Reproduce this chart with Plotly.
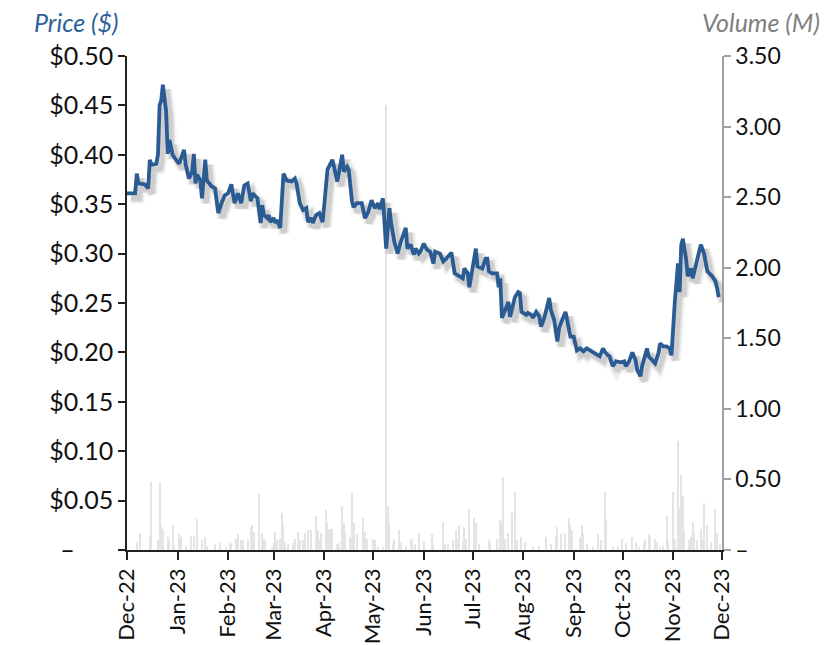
import plotly.graph_objects as go
import datetime as _dt

# ---------------- data ----------------
price_dates = ["2022-12-01","2022-12-02","2022-12-06","2022-12-07","2022-12-08","2022-12-12","2022-12-14","2022-12-15","2022-12-16","2022-12-19","2022-12-20","2022-12-21","2022-12-22","2022-12-23","2022-12-24","2022-12-25","2022-12-26","2022-12-27","2022-12-28","2022-12-29","2022-12-31",
"2023-01-02","2023-01-05","2023-01-06","2023-01-08","2023-01-10","2023-01-11","2023-01-12","2023-01-13","2023-01-15","2023-01-16","2023-01-18","2023-01-19","2023-01-22","2023-01-24","2023-01-26","2023-01-28","2023-01-30",
"2023-02-01","2023-02-03","2023-02-05","2023-02-07","2023-02-09","2023-02-11","2023-02-13","2023-02-15","2023-02-16","2023-02-19","2023-02-21","2023-02-22","2023-02-23","2023-02-25","2023-02-26","2023-02-27",
"2023-03-01","2023-03-02","2023-03-03","2023-03-05","2023-03-07","2023-03-09","2023-03-12","2023-03-14","2023-03-15","2023-03-17","2023-03-19","2023-03-21","2023-03-22","2023-03-24","2023-03-25","2023-03-27","2023-03-29","2023-03-31",
"2023-04-01","2023-04-03","2023-04-06","2023-04-07","2023-04-09","2023-04-12","2023-04-13","2023-04-15","2023-04-16","2023-04-18","2023-04-19","2023-04-21","2023-04-24","2023-04-26","2023-04-28","2023-04-30",
"2023-05-02","2023-05-04","2023-05-05","2023-05-07","2023-05-09","2023-05-11","2023-05-12","2023-05-14","2023-05-16","2023-05-18","2023-05-21","2023-05-22","2023-05-24","2023-05-26","2023-05-27","2023-05-29","2023-05-30",
"2023-06-01","2023-06-03","2023-06-05","2023-06-07","2023-06-08","2023-06-11","2023-06-13","2023-06-15","2023-06-18","2023-06-20","2023-06-22","2023-06-25","2023-06-26","2023-06-28","2023-06-29",
"2023-07-01","2023-07-03","2023-07-04","2023-07-07","2023-07-09","2023-07-10","2023-07-11","2023-07-13","2023-07-16","2023-07-17","2023-07-18","2023-07-19","2023-07-21","2023-07-23","2023-07-24","2023-07-27","2023-07-29","2023-07-30","2023-07-31",
"2023-08-03","2023-08-04","2023-08-06","2023-08-07","2023-08-09","2023-08-11","2023-08-12","2023-08-14","2023-08-17","2023-08-18","2023-08-20","2023-08-22","2023-08-23","2023-08-25","2023-08-27","2023-08-28","2023-08-30",
"2023-09-01","2023-09-03","2023-09-05","2023-09-07","2023-09-09","2023-09-12","2023-09-15","2023-09-17","2023-09-19","2023-09-20","2023-09-22","2023-09-23","2023-09-25","2023-09-27","2023-09-30",
"2023-10-02","2023-10-03","2023-10-05","2023-10-07","2023-10-09","2023-10-10","2023-10-12","2023-10-13","2023-10-16","2023-10-17","2023-10-19","2023-10-21","2023-10-23","2023-10-24","2023-10-26","2023-10-28","2023-10-30","2023-10-31",
"2023-11-02","2023-11-03","2023-11-04","2023-11-05","2023-11-06","2023-11-07","2023-11-09","2023-11-10","2023-11-12","2023-11-13","2023-11-15","2023-11-16","2023-11-18","2023-11-20","2023-11-22","2023-11-25","2023-11-27","2023-11-28","2023-11-29"]

price_vals = [0.361,0.361,0.361,0.381,0.371,0.370,0.366,0.395,0.390,0.391,0.400,0.450,0.455,0.471,0.460,0.444,0.401,0.415,0.408,0.400,0.395,
0.391,0.405,0.390,0.376,0.383,0.401,0.371,0.380,0.374,0.356,0.395,0.374,0.368,0.366,0.341,0.351,0.359,
0.361,0.370,0.351,0.361,0.351,0.369,0.371,0.353,0.361,0.356,0.331,0.349,0.339,0.336,0.339,0.332,
0.336,0.331,0.334,0.326,0.381,0.374,0.373,0.376,0.371,0.351,0.344,0.346,0.332,0.336,0.331,0.339,0.341,0.332,
0.349,0.385,0.395,0.386,0.373,0.400,0.383,0.388,0.385,0.353,0.347,0.351,0.351,0.336,0.342,0.354,
0.346,0.351,0.345,0.356,0.305,0.346,0.331,0.312,0.300,0.312,0.326,0.305,0.309,0.299,0.305,0.300,0.302,
0.310,0.304,0.302,0.290,0.302,0.300,0.292,0.295,0.301,0.280,0.278,0.275,0.285,0.280,0.266,
0.285,0.305,0.287,0.285,0.295,0.295,0.282,0.280,0.280,0.266,0.275,0.235,0.243,0.251,0.236,0.256,0.261,0.260,0.241,
0.238,0.240,0.238,0.235,0.241,0.236,0.226,0.235,0.255,0.243,0.233,0.211,0.224,0.233,0.241,0.233,0.216,
0.216,0.202,0.204,0.201,0.204,0.201,0.197,0.196,0.204,0.201,0.197,0.196,0.186,0.191,0.190,
0.191,0.186,0.191,0.200,0.192,0.182,0.176,0.186,0.204,0.196,0.192,0.189,0.199,0.209,0.206,0.206,0.204,0.197,
0.250,0.273,0.290,0.261,0.309,0.315,0.294,0.277,0.285,0.275,0.290,0.294,0.309,0.300,0.282,0.277,0.272,0.265,0.256]

vol_dates = ["2022-12-07","2022-12-09","2022-12-15","2022-12-16","2022-12-20","2022-12-21","2022-12-22","2022-12-23","2022-12-26","2022-12-27","2022-12-29","2022-12-30",
"2023-01-02","2023-01-03","2023-01-06","2023-01-09","2023-01-11","2023-01-13","2023-01-16","2023-01-18","2023-01-19","2023-01-24","2023-01-27","2023-01-31",
"2023-02-02","2023-02-03","2023-02-06","2023-02-07","2023-02-09","2023-02-10","2023-02-13","2023-02-15","2023-02-16","2023-02-17","2023-02-20","2023-02-22","2023-02-23","2023-02-24","2023-02-28",
"2023-03-01","2023-03-02","2023-03-03","2023-03-05","2023-03-06","2023-03-07","2023-03-08","2023-03-10","2023-03-13","2023-03-14","2023-03-16","2023-03-17","2023-03-19","2023-03-20","2023-03-22","2023-03-24","2023-03-27","2023-03-28","2023-03-29","2023-03-30",
"2023-04-02","2023-04-03","2023-04-04","2023-04-05","2023-04-06","2023-04-09","2023-04-10","2023-04-12","2023-04-13","2023-04-14","2023-04-17","2023-04-18","2023-04-19","2023-04-21","2023-04-25","2023-04-26","2023-04-27",
"2023-05-01","2023-05-02","2023-05-04","2023-05-07","2023-05-09","2023-05-10","2023-05-11","2023-05-13","2023-05-14","2023-05-17","2023-05-18","2023-05-21","2023-05-24","2023-05-25","2023-05-27","2023-05-29",
"2023-06-01","2023-06-06","2023-06-07","2023-06-13","2023-06-14","2023-06-16","2023-06-19","2023-06-21","2023-06-22","2023-06-23","2023-06-25","2023-06-26","2023-06-27","2023-06-29",
"2023-07-02","2023-07-03","2023-07-05","2023-07-11","2023-07-12","2023-07-16","2023-07-18","2023-07-19","2023-07-20","2023-07-21","2023-07-23","2023-07-25","2023-07-27","2023-07-28","2023-07-31",
"2023-08-02","2023-08-07","2023-08-11","2023-08-15","2023-08-18","2023-08-21","2023-08-22","2023-08-24","2023-08-27","2023-08-29","2023-08-30","2023-08-31",
"2023-09-05","2023-09-06","2023-09-07","2023-09-09","2023-09-13","2023-09-16","2023-09-18","2023-09-20","2023-09-21","2023-09-25","2023-09-28",
"2023-10-01","2023-10-03","2023-10-07","2023-10-09","2023-10-11","2023-10-14","2023-10-15","2023-10-17","2023-10-18","2023-10-21","2023-10-22","2023-10-24","2023-10-26","2023-10-28","2023-10-29",
"2023-11-01","2023-11-02","2023-11-04","2023-11-05","2023-11-06","2023-11-07","2023-11-08","2023-11-11","2023-11-12","2023-11-13","2023-11-14","2023-11-16","2023-11-18","2023-11-19","2023-11-20","2023-11-22","2023-11-24","2023-11-27","2023-11-28","2023-11-30"]

vol_vals = [0.05,0.12,0.09,0.48,0.07,0.48,0.18,0.15,0.09,0.07,0.18,0.03,
0.11,0.09,0.03,0.10,0.10,0.22,0.07,0.09,0.03,0.04,0.05,0.02,
0.05,0.04,0.08,0.11,0.07,0.07,0.08,0.165,0.18,0.13,0.40,0.12,0.08,0.07,0.02,
0.05,0.13,0.07,0.08,0.26,0.18,0.06,0.04,0.05,0.08,0.13,0.07,0.07,0.12,0.14,0.14,0.24,0.14,0.07,0.12,
0.28,0.20,0.15,0.15,0.15,0.04,0.05,0.31,0.19,0.13,0.09,0.41,0.19,0.11,0.23,0.13,0.08,
0.08,0.07,0.02,0.02,3.15,0.31,0.20,0.05,0.08,0.14,0.05,0.03,0.08,0.07,0.04,0.12,
0.06,0.11,0.04,0.20,0.04,0.04,0.07,0.14,0.08,0.18,0.06,0.165,0.08,0.29,
0.23,0.19,0.04,0.07,0.05,0.08,0.21,0.20,0.52,0.08,0.12,0.26,0.41,0.07,0.09,
0.06,0.02,0.03,0.09,0.04,0.10,0.165,0.11,0.12,0.23,0.18,0.14,
0.09,0.18,0.11,0.04,0.02,0.11,0.07,0.41,0.22,0.02,0.03,
0.08,0.05,0.09,0.06,0.02,0.05,0.08,0.11,0.10,0.08,0.06,0.02,0.03,0.24,0.06,
0.41,0.08,0.77,0.30,0.53,0.38,0.14,0.07,0.09,0.20,0.13,0.07,0.15,0.07,0.33,0.18,0.06,0.29,0.12,0.04]

month_ticks = ["2022-12-01","2023-01-01","2023-02-01","2023-03-01","2023-04-01","2023-05-01","2023-06-01",
               "2023-07-01","2023-08-01","2023-09-01","2023-10-01","2023-11-01","2023-12-01"]
month_labels = ["Dec-22","Jan-23","Feb-23","Mar-23","Apr-23","May-23","Jun-23",
                "Jul-23","Aug-23","Sep-23","Oct-23","Nov-23","Dec-23"]
price_ticks = [0, 0.05, 0.10, 0.15, 0.20, 0.25, 0.30, 0.35, 0.40, 0.45, 0.50]
price_labels = ["–\u00a0\u00a0\u00a0\u00a0\u00a0\u00a0", "$0.05", "$0.10", "$0.15", "$0.20", "$0.25",
                "$0.30", "$0.35", "$0.40", "$0.45", "$0.50"]
vol_ticks = [0, 0.5, 1.0, 1.5, 2.0, 2.5, 3.0, 3.5]
vol_labels = ["–", "0.50", "1.00", "1.50", "2.00", "2.50", "3.00", "3.50"]

# ---------------- layout geometry ----------------
W, H = 833, 645
L, R, T, B = 127, 111, 56, 95
PW, PH = W - L - R, H - T - B
X0, X1 = "2022-12-01", "2023-12-01"
P_MAX, V_MAX = 0.5, 3.5
FONT = "Lato"
LINE_COLOR = "#2a5b93"

_d0 = _dt.datetime.fromisoformat(X0)
_d1 = _dt.datetime.fromisoformat(X1)
ms_per_px = (_d1 - _d0).total_seconds() * 1000 / PW
val_per_px = P_MAX / PH

def shifted_x(dx_px):
    s = _dt.timedelta(milliseconds=dx_px * ms_per_px)
    return [(_d0 - s).isoformat(), (_d1 - s).isoformat()]

def shifted_y(dy_px):
    s = dy_px * val_per_px
    return [0 + s, P_MAX + s]

fig = go.Figure()

# volume bars (right axis)
fig.add_trace(go.Bar(x=vol_dates, y=vol_vals, xaxis="x", yaxis="y",
                     marker=dict(color="#e4e4e4", line=dict(width=0)),
                     width=86400000 * 0.7, hoverinfo="skip", showlegend=False))

# soft shadow of the price line
for w, a in [(12, 0.03), (9, 0.045), (7, 0.06), (5, 0.07)]:
    fig.add_trace(go.Scatter(x=price_dates, y=price_vals, xaxis="x2", yaxis="y2", mode="lines",
                             line=dict(color=f"rgba(0,0,0,{a})", width=w),
                             hoverinfo="skip", showlegend=False))

# price line
fig.add_trace(go.Scatter(x=price_dates, y=price_vals, xaxis="x3", yaxis="y3", mode="lines",
                         line=dict(color=LINE_COLOR, width=3.8),
                         showlegend=False))

fig.update_layout(
    width=W, height=H,
    margin=dict(l=L, r=R, t=T, b=B, pad=0, autoexpand=False),
    paper_bgcolor="white", plot_bgcolor="white",
    showlegend=False,
    bargap=0,
    xaxis=dict(type="date", range=[X0, X1], tickvals=month_ticks, ticktext=month_labels,
               tickangle=-90, ticks="outside", ticklen=8, tickwidth=1.5, tickcolor="#222222",
               showline=True, linecolor="#222222", linewidth=1.5, showgrid=False, zeroline=False,
               automargin=False,
               tickfont=dict(family=FONT, size=22, color="#111111"), anchor="y"),
    yaxis=dict(range=[0, V_MAX], side="right", tickvals=vol_ticks, ticktext=vol_labels,
               ticks="outside", ticklen=7, tickwidth=1.5, tickcolor="#a0a0a0",
               showline=True, linecolor="#a0a0a0", linewidth=1.5, showgrid=False, zeroline=False,
               automargin=False,
               tickfont=dict(family=FONT, size=23, color="#111111"), anchor="x"),
    xaxis2=dict(type="date", range=shifted_x(4), overlaying="x", visible=False, anchor="y2"),
    yaxis2=dict(range=shifted_y(5), overlaying="y", visible=False, anchor="x2"),
    xaxis3=dict(type="date", range=[X0, X1], overlaying="x", visible=False, anchor="y3"),
    yaxis3=dict(range=[0, P_MAX], side="left", overlaying="y", tickvals=price_ticks, ticktext=price_labels,
                ticks="outside", ticklen=7, tickwidth=1.5, tickcolor="#222222",
                showline=True, linecolor="#222222", linewidth=1.5, showgrid=False, zeroline=False,
                automargin=False,
                tickfont=dict(family=FONT, size=25, color="#111111"), anchor="x3"),
)

def px_to_paper(px, py):
    return (px - L) / PW, 1 - (py - T) / PH

ax, ay = px_to_paper(32, 5)
fig.add_annotation(text="<i>Price ($)</i>", xref="paper", yref="paper", x=ax, y=ay,
                   xanchor="left", yanchor="top", showarrow=False,
                   font=dict(family=FONT, size=25, color="#2e5f99"))
bx, by = px_to_paper(822, 5)
fig.add_annotation(text="<i>Volume (M)</i>", xref="paper", yref="paper", x=bx, y=by,
                   xanchor="right", yanchor="top", showarrow=False,
                   font=dict(family=FONT, size=25, color="#808080"))

fig.write_html("out.html")
